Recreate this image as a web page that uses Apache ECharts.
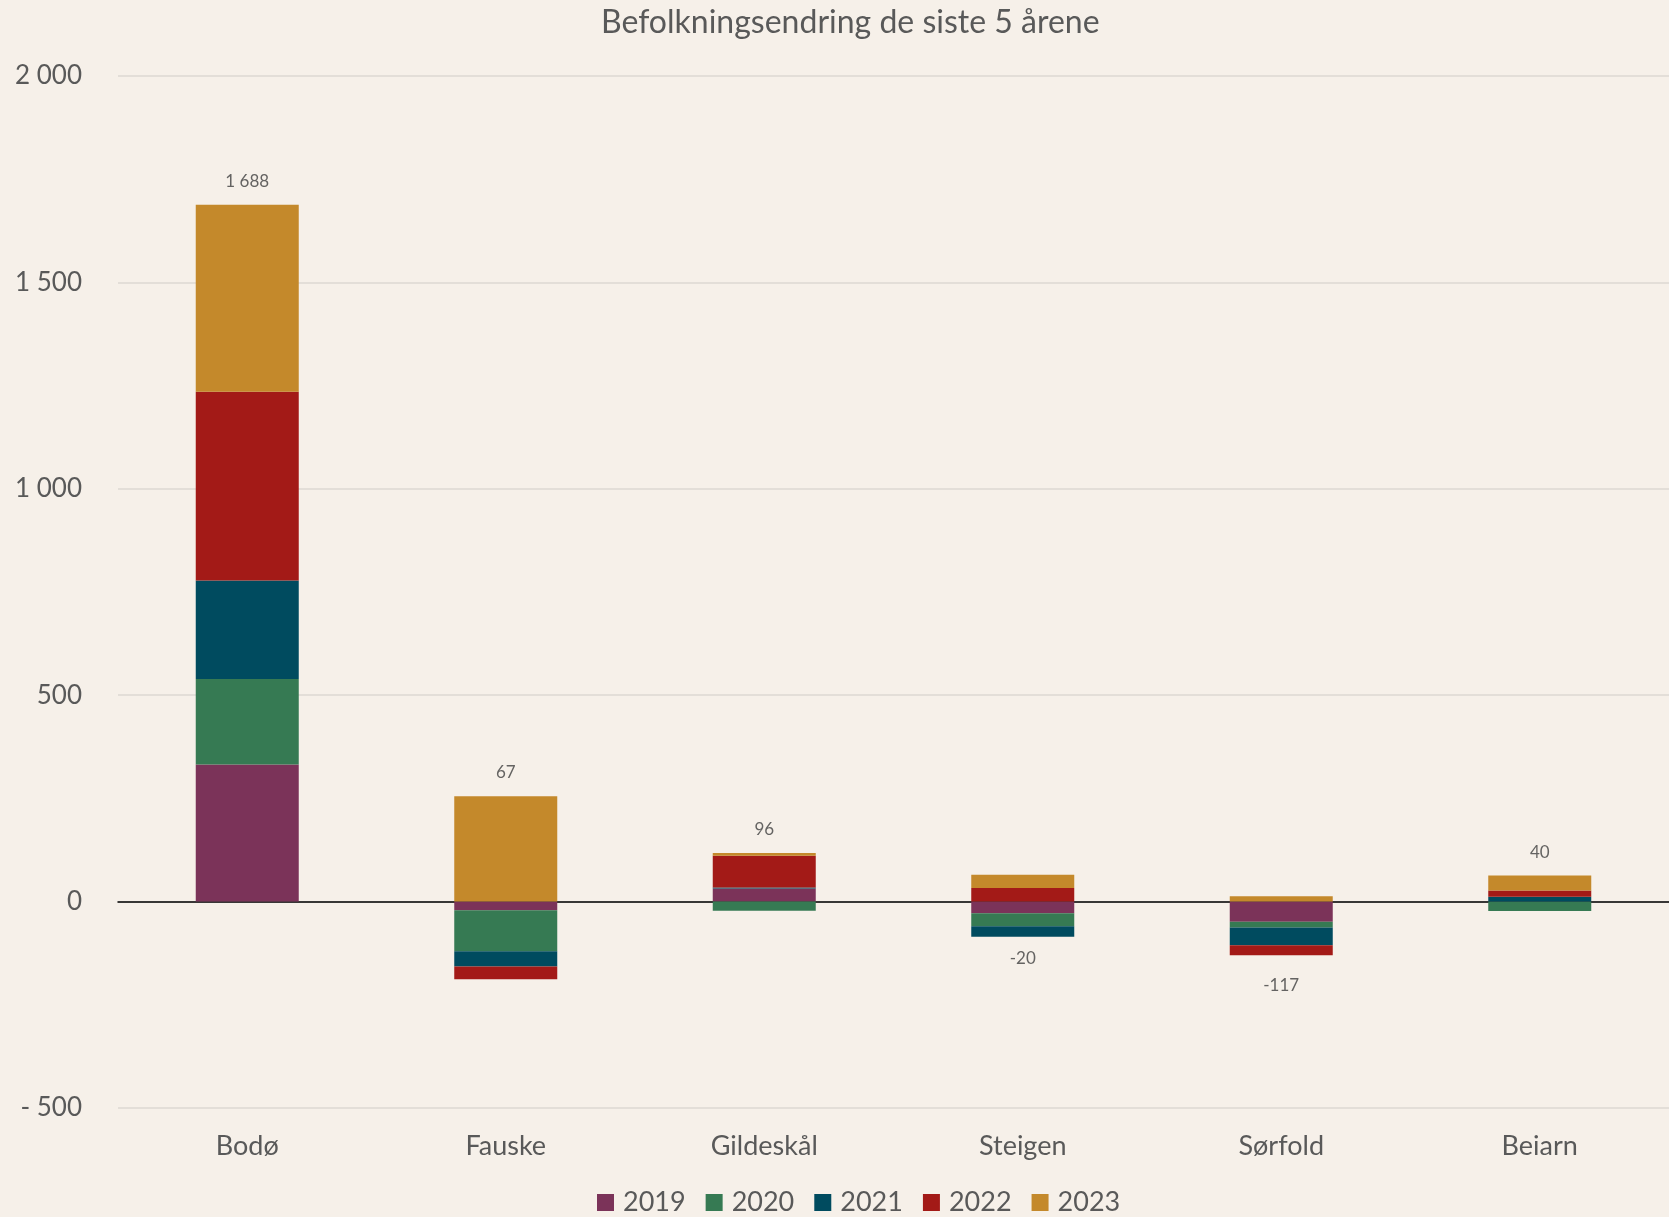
<!DOCTYPE html>
<html>
<head>
<meta charset="utf-8">
<script src="https://cdn.jsdelivr.net/npm/echarts@6/dist/echarts.min.js"></script>
<style>
  html, body { margin: 0; padding: 0; background: #f6f0e9; }
  #chart { width: 1669px; height: 1217px; }
</style>
</head>
<body>
<div id="chart"></div>
<script>
const kommuner = ['Bodø', 'Fauske', 'Gildeskål', 'Steigen', 'Sørfold', 'Beiarn']
const years = ['2019', '2020', '2021', '2022', '2023']

const y2019 = [332, -21, 32, -28, -49, 0]
const y2020 = [207, -99, -22, -32, -14, -23]
const y2021 = [239, -37, 2, -25, -43, 12]
const y2022 = [457, -31, 77, 33, -24, 15]
const y2023 = [453, 255, 7, 32, 13, 36]

const colors = ['#7b3359', '#367a53', '#004b5f', '#a31a17', '#c4892b']
const yearData = [y2019, y2020, y2021, y2022, y2023]

// totaler og plassering av etikett (over pos. stabel eller under neg. stabel)
const totals = kommuner.map((_, i) => yearData.reduce((s, arr) => s + arr[i], 0))
const labelPos = kommuner.map((_, i) => {
  const pos = yearData.reduce((s, arr) => s + Math.max(arr[i], 0), 0)
  const neg = yearData.reduce((s, arr) => s + Math.min(arr[i], 0), 0)
  return totals[i] >= 0 ? pos : neg
})

const fmt = (v) => {
  const s = Math.abs(v).toString().replace(/\B(?=(\d{3})+(?!\d))/g, ' ')
  return v < 0 ? '- ' + s : s
}
const fmtLabel = (v) => {
  const s = Math.abs(v).toString().replace(/\B(?=(\d{3})+(?!\d))/g, ' ')
  return v < 0 ? '-' + s : s
}

const chart = echarts.init(document.getElementById('chart'))

const series = years.map((y, k) => ({
  name: y,
  type: 'bar',
  stack: 'total',
  barWidth: 103,
  data: yearData[k],
  itemStyle: { color: colors[k] }
}))

series.push({
  name: 'sum',
  type: 'scatter',
  symbolSize: 0,
  silent: true,
  data: labelPos.map((v, i) => ({
    value: v,
    label: {
      show: true,
      position: totals[i] >= 0 ? 'top' : 'bottom',
      distance: totals[i] >= 0 ? 15 : (totals[i] < -100 ? 22 : 13),
      formatter: () => fmtLabel(totals[i]),
      color: '#404040',
      fontSize: 17,
      fontFamily: 'Lato'
    }
  }))
})

const option = {
  backgroundColor: '#f6f0e9',
  animation: false,
  textStyle: { fontFamily: 'Lato' },
  title: {
    text: 'Befolkningsendring de siste 5 årene',
    left: 596,
    top: 2,
    textStyle: { color: '#595959', fontSize: 32, fontWeight: 'normal', fontFamily: 'Lato' }
  },
  legend: {
    data: years,
    bottom: -4,
    left: 592,
    itemWidth: 17,
    itemHeight: 17,
    itemGap: 20,
    icon: 'rect',
    textStyle: { color: '#595959', fontSize: 27, fontFamily: 'Lato', padding: [0, 0, 0, 4] }
  },
  grid: { left: 118, right: 0, top: 76, bottom: 109 },
  xAxis: [{
    type: 'category',
    data: kommuner,
    axisTick: { show: false },
    axisLine: { onZero: true, lineStyle: { color: '#000', width: 1.5 } },
    axisLabel: { show: false }
  }, {
    // kategorinavn under diagrammet
    type: 'category',
    data: kommuner,
    position: 'bottom',
    axisLine: { show: false },
    axisTick: { show: false },
    axisLabel: { color: '#595959', fontSize: 27, margin: 25 }
  }],
  yAxis: {
    type: 'value',
    min: -500,
    max: 2000,
    interval: 500,
    axisLabel: { color: '#595959', fontSize: 26, margin: 36, formatter: fmt },
    splitLine: { lineStyle: { color: '#dcd8d2', width: 1.5 } },
    axisLine: { show: false },
    axisTick: { show: false }
  },
  series: series
}

chart.setOption(option)
</script>
</body>
</html>
